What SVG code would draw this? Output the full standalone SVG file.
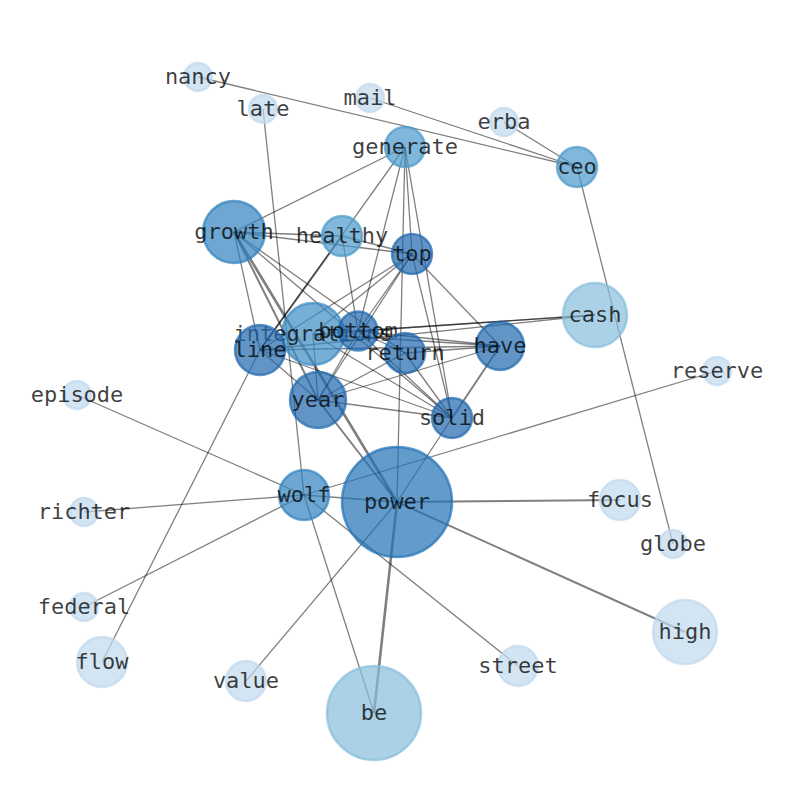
<svg xmlns="http://www.w3.org/2000/svg" width="794" height="790" viewBox="0 0 794 790">
<style>
.e{stroke:#000;stroke-opacity:0.5;stroke-width:1.3;fill:none}
.w2{stroke-width:2}
.w3{stroke-width:2.6}
circle{fill-opacity:0.7;stroke-opacity:0.7;stroke-width:2.5}
.lt{fill:#c0d8ee;stroke:#c0d8ee}
.ml{fill:#88bedc;stroke:#88bedc}
.md{fill:#4a98cb;stroke:#4a98cb}
.gr{fill:#3182bd;stroke:#3182bd}
.in{fill:#3d8bc4;stroke:#3d8bc4}
.dk{fill:#1f68ae;stroke:#1f68ae}
.pw{fill:#2171b5;stroke:#2171b5}
text{font-family:"DejaVu Sans Mono","Liberation Mono",monospace;font-size:22px;fill:#000;fill-opacity:0.75;text-anchor:middle}
</style>
<rect width="794" height="790" fill="#fff"/>
<g id="edges">
<line class="e" x1="198" y1="77" x2="577" y2="167"/>
<line class="e" x1="370" y1="98" x2="577" y2="167"/>
<line class="e" x1="504" y1="122" x2="577" y2="167"/>
<line class="e" x1="577" y1="167" x2="673" y2="544"/>
<line class="e" x1="263" y1="109" x2="304" y2="495"/>
<line class="e" x1="304" y1="495" x2="374" y2="713"/>
<line class="e" x1="77" y1="395" x2="304" y2="495"/>
<line class="e" x1="84" y1="512" x2="304" y2="495"/>
<line class="e" x1="84" y1="607" x2="304" y2="495"/>
<line class="e" x1="304" y1="495" x2="717" y2="371"/>
<line class="e" x1="304" y1="495" x2="518" y2="666"/>
<line class="e" x1="304" y1="495" x2="397" y2="502"/>
<line class="e" x1="102" y1="662" x2="260" y2="350"/>
<line class="e" x1="246" y1="681" x2="397" y2="502"/>
<line class="e w3" x1="374" y1="713" x2="397" y2="502"/>
<line class="e w2" x1="685" y1="632" x2="397" y2="502"/>
<line class="e w2" x1="620" y1="500" x2="397" y2="502"/>
<line class="e" x1="405" y1="147" x2="234" y2="232"/>
<line class="e" x1="405" y1="147" x2="412" y2="254"/>
<line class="e" x1="405" y1="147" x2="397" y2="502"/>
<line class="e" x1="405" y1="147" x2="358" y2="331"/>
<line class="e" x1="405" y1="147" x2="260" y2="350"/>
<line class="e" x1="405" y1="147" x2="452" y2="418"/>
<line class="e" x1="234" y1="232" x2="342" y2="236"/>
<line class="e" x1="234" y1="232" x2="412" y2="254"/>
<line class="e" x1="234" y1="232" x2="260" y2="350"/>
<line class="e w2" x1="234" y1="232" x2="318" y2="400"/>
<line class="e w3" x1="234" y1="232" x2="397" y2="502"/>
<line class="e" x1="234" y1="232" x2="405" y2="353"/>
<line class="e" x1="234" y1="232" x2="452" y2="418"/>
<line class="e" x1="342" y1="236" x2="412" y2="254"/>
<line class="e w2" x1="342" y1="236" x2="260" y2="350"/>
<line class="e" x1="342" y1="236" x2="358" y2="331"/>
<line class="e" x1="412" y1="254" x2="318" y2="400"/>
<line class="e" x1="412" y1="254" x2="313" y2="334"/>
<line class="e" x1="412" y1="254" x2="260" y2="350"/>
<line class="e" x1="412" y1="254" x2="500" y2="346"/>
<line class="e" x1="412" y1="254" x2="452" y2="418"/>
<line class="e" x1="412" y1="254" x2="358" y2="331"/>
<line class="e" x1="595" y1="315" x2="260" y2="350"/>
<line class="e" x1="595" y1="315" x2="358" y2="331"/>
<line class="e" x1="595" y1="315" x2="313" y2="334"/>
<line class="e" x1="358" y1="331" x2="500" y2="346"/>
<line class="e" x1="358" y1="331" x2="405" y2="353"/>
<line class="e" x1="358" y1="331" x2="452" y2="418"/>
<line class="e" x1="358" y1="331" x2="318" y2="400"/>
<line class="e" x1="313" y1="334" x2="500" y2="346"/>
<line class="e" x1="313" y1="334" x2="452" y2="418"/>
<line class="e" x1="313" y1="334" x2="318" y2="400"/>
<line class="e" x1="405" y1="353" x2="500" y2="346"/>
<line class="e" x1="405" y1="353" x2="452" y2="418"/>
<line class="e" x1="405" y1="353" x2="318" y2="400"/>
<line class="e" x1="260" y1="350" x2="500" y2="346"/>
<line class="e" x1="260" y1="350" x2="318" y2="400"/>
<line class="e" x1="260" y1="350" x2="452" y2="418"/>
<line class="e" x1="318" y1="400" x2="500" y2="346"/>
<line class="e" x1="318" y1="400" x2="452" y2="418"/>
<line class="e w2" x1="318" y1="400" x2="397" y2="502"/>
<line class="e w2" x1="500" y1="346" x2="452" y2="418"/>
<line class="e" x1="452" y1="418" x2="397" y2="502"/>
</g>
<g id="n-nancy"><circle class="lt" cx="198" cy="77" r="14"/><text x="198" y="83.5">nancy</text></g>
<g id="n-late"><circle class="lt" cx="263" cy="109" r="14"/><text x="263" y="115.5">late</text></g>
<g id="n-mail"><circle class="lt" cx="370" cy="98" r="14"/><text x="370" y="104.5">mail</text></g>
<g id="n-erba"><circle class="lt" cx="504" cy="122" r="14"/><text x="504" y="128.5">erba</text></g>
<g id="n-generate"><circle class="md" cx="405" cy="147" r="20"/><text x="405" y="153.5">generate</text></g>
<g id="n-ceo"><circle class="md" cx="577" cy="167" r="20"/><text x="577" y="173.5">ceo</text></g>
<g id="n-growth"><circle class="gr" cx="234" cy="232" r="31"/><text x="234" y="238.5">growth</text></g>
<g id="n-healthy"><circle class="md" cx="342" cy="236" r="20"/><text x="342" y="242.5">healthy</text></g>
<g id="n-top"><circle class="dk" cx="412" cy="254" r="20"/><text x="412" y="260.5">top</text></g>
<g id="n-cash"><circle class="ml" cx="595" cy="315" r="32"/><text x="595" y="321.5">cash</text></g>
<g id="n-integrations"><circle class="in" cx="313" cy="334" r="31"/><text x="313" y="340.5">integrations</text></g>
<g id="n-bottom"><circle class="dk" cx="358" cy="331" r="19.5"/><text x="358" y="337.5">bottom</text></g>
<g id="n-line"><circle class="dk" cx="260" cy="350" r="25"/><text x="260" y="356.5">line</text></g>
<g id="n-return"><circle class="dk" cx="405" cy="353" r="20"/><text x="405" y="359.5">return</text></g>
<g id="n-have"><circle class="dk" cx="500" cy="346" r="24"/><text x="500" y="352.5">have</text></g>
<g id="n-reserve"><circle class="lt" cx="717" cy="371" r="14"/><text x="717" y="377.5">reserve</text></g>
<g id="n-episode"><circle class="lt" cx="77" cy="395" r="14"/><text x="77" y="401.5">episode</text></g>
<g id="n-year"><circle class="dk" cx="318" cy="400" r="28"/><text x="318" y="406.5">year</text></g>
<g id="n-solid"><circle class="dk" cx="452" cy="418" r="20"/><text x="452" y="424.5">solid</text></g>
<g id="n-wolf"><circle class="gr" cx="304" cy="495" r="25"/><text x="304" y="501.5">wolf</text></g>
<g id="n-power"><circle class="pw" cx="397" cy="502" r="55"/><text x="397" y="508.5">power</text></g>
<g id="n-focus"><circle class="lt" cx="620" cy="500" r="20"/><text x="620" y="506.5">focus</text></g>
<g id="n-richter"><circle class="lt" cx="84" cy="512" r="14"/><text x="84" y="518.5">richter</text></g>
<g id="n-globe"><circle class="lt" cx="673" cy="544" r="14"/><text x="673" y="550.5">globe</text></g>
<g id="n-federal"><circle class="lt" cx="84" cy="607" r="14"/><text x="84" y="613.5">federal</text></g>
<g id="n-flow"><circle class="lt" cx="102" cy="662" r="25"/><text x="102" y="668.5">flow</text></g>
<g id="n-value"><circle class="lt" cx="246" cy="681" r="20"/><text x="246" y="687.5">value</text></g>
<g id="n-street"><circle class="lt" cx="518" cy="666" r="20"/><text x="518" y="672.5">street</text></g>
<g id="n-high"><circle class="lt" cx="685" cy="632" r="32"/><text x="685" y="638.5">high</text></g>
<g id="n-be"><circle class="ml" cx="374" cy="713" r="47"/><text x="374" y="719.5">be</text></g>
</svg>
